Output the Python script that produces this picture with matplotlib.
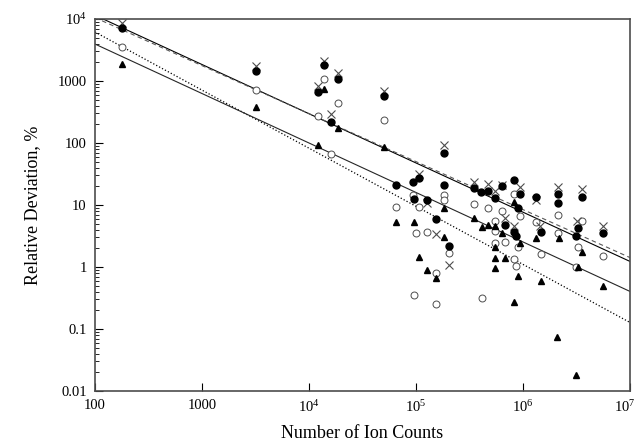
import matplotlib.pyplot as plt
import matplotlib.transforms as mtransforms
import numpy as np

plt.rcParams['font.family'] = ['Liberation Serif', 'DejaVu Serif']
plt.rcParams['mathtext.fontset'] = 'custom'
plt.rcParams['mathtext.rm'] = 'Liberation Serif'

# filled circles
n_fc = [179, 3200, 12100, 13800, 16100, 18700, 50200,
        183000, 65000, 93700, 107000, 95700, 127000, 183000, 154000, 203000,
        348000, 405000, 471000, 636000, 824000, 938000, 547000, 898000,
        679000, 824000, 861000,
        1.32e6, 2.12e6, 2.12e6, 3.56e6, 1.47e6, 3.27e6, 3.13e6, 5.59e6]
d_fc = [7160, 1445, 662, 1810, 217, 1074, 570,
        68.4, 20.8, 23.3, 27.0, 12.4, 11.9, 20.8, 5.88, 2.15,
        18.6, 16.0, 16.6, 20.0, 25.1, 14.9, 12.8, 8.85,
        4.70, 3.62, 3.12,
        13.3, 14.9, 10.6, 13.3, 3.62, 4.21, 3.12, 3.49]

# crosses
n_x = [179, 3200, 12100, 13800, 16100, 18700, 50200,
       183000, 107000, 127000, 154000, 203000,
       348000, 471000, 636000, 938000, 547000, 679000, 824000,
       1.32e6, 2.12e6, 3.56e6, 1.44e6, 3.20e6, 5.59e6]
d_x = [8620, 1740, 828, 2090, 292, 1340, 687,
       92, 31.3, 10.6, 3.36, 1.06,
       23.3, 21.6, 20.8, 19.3, 16.6, 6.10, 4.53,
       11.9, 19.3, 17.9, 4.53, 5.46, 4.53]

# open circles
n_oc = [179, 3200, 12100, 13800, 16100, 18700, 50200,
        65000, 93700, 107000, 183000, 183000, 100000, 127000, 203000,
        154000, 95700, 154000, 414000,
        348000, 471000, 636000, 824000, 938000, 547000, 547000, 679000,
        547000, 898000, 824000, 861000,
        1.32e6, 2.12e6, 2.12e6, 1.47e6, 3.56e6, 3.27e6, 3.13e6, 5.59e6]
d_oc = [3530, 713, 271, 1074, 65.9, 440, 233,
        9.18, 14.4, 9.18, 14.4, 11.9, 3.49, 3.62, 1.66,
        0.79, 0.348, 0.249, 0.311,
        10.3, 8.85, 7.91, 14.9, 6.57, 5.46, 3.76, 2.50,
        2.41, 2.08, 1.33, 1.02,
        5.26, 6.82, 3.49, 1.60, 5.46, 2.08, 0.986, 1.48]

# triangles
n_tr = [179, 3200, 12100, 13800, 18700, 50200,
        65000, 95700, 183000, 183000, 107000, 127000, 154000,
        348000, 414000, 471000, 547000, 824000, 636000, 938000, 547000,
        547000, 679000, 547000, 898000, 824000,
        1.32e6, 2.17e6, 1.47e6, 3.56e6, 3.27e6, 5.59e6, 2.08e6, 3.13e6]
d_tr = [1870, 379, 92, 740, 173, 85.5,
        5.26, 5.26, 8.85, 3.01, 1.43, 0.88, 0.655,
        6.10, 4.37, 4.70, 4.53, 11.1, 3.49, 2.41, 2.08,
        1.38, 1.38, 0.95, 0.705, 0.268,
        2.90, 2.90, 0.585, 1.72, 0.986, 0.486, 0.073, 0.0184]

# power-law fits, log10(d) = a + b*log10(n)
fit_fc = (5.648, -0.794)
fit_x = (5.570, -0.774)
fit_oc = (5.664, -0.937)
fit_tr = (5.192, -0.798)

fig = plt.figure(figsize=(6.39, 4.42), dpi=100)
ax = fig.add_axes([0.1487, 0.1154, 0.8372, 0.8416])

nn = np.logspace(2, 7, 200)
ax.plot(nn, 10**(fit_fc[0] + fit_fc[1]*np.log10(nn)), '-', color='k', lw=0.8)
ax.plot(nn, 10**(fit_x[0] + fit_x[1]*np.log10(nn)), '--', color='0.35', lw=0.8,
        dashes=(4, 3))
ax.plot(nn, 10**(fit_oc[0] + fit_oc[1]*np.log10(nn)), ':', color='k', lw=0.9)
ax.plot(nn, 10**(fit_tr[0] + fit_tr[1]*np.log10(nn)), '-', color='0.15', lw=0.8)

ax.plot(n_oc, d_oc, 'o', ms=5, mfc='white', mec='0.3', mew=0.7, ls='none')
ax.plot(n_x, d_x, 'x', ms=6, color='0.3', mew=0.8, ls='none')
ax.plot(n_fc, d_fc, 'o', ms=5, color='k', ls='none')
ax.plot(n_tr, d_tr, '^', ms=5, color='k', ls='none')

ax.set_xscale('log')
ax.set_yscale('log')
ax.set_xlim(100, 1e7)
ax.set_ylim(0.01, 1e4)

xt = [1e2, 1e3, 1e4, 1e5, 1e6, 1e7]
xl = ['100', '1000', r'$\mathregular{10^4}$', r'$\mathregular{10^5}$',
      r'$\mathregular{10^6}$', r'$\mathregular{10^7}$']
yt = [0.01, 0.1, 1, 10, 100, 1000, 1e4]
yl = ['0.01', '0.1', '1', '10', '100', '1000', r'$\mathregular{10^4}$']
ax.set_xticks(xt)
ax.set_xticklabels(xl, fontsize=10.5)
ax.set_yticks(yt)
ax.set_yticklabels(yl, fontsize=10.5)
ax.xaxis.set_minor_locator(plt.NullLocator())
ax.tick_params(which='both', direction='in', top=False, right=False)
ax.tick_params(which='major', length=6, width=0.8, pad=6)
ax.tick_params(which='minor', length=3, width=0.6)

# pull the last x label in a bit so it stays inside the figure
lab = ax.get_xticklabels()[-1]
lab.set_transform(lab.get_transform() +
                  mtransforms.ScaledTranslation(-4/72, 0, fig.dpi_scale_trans))

for s in ax.spines.values():
    s.set_linewidth(1.2)
    s.set_color('0.3')

ax.set_xlabel('Number of Ion Counts', fontsize=13, labelpad=7)
ax.set_ylabel('Relative Deviation, %', fontsize=13, labelpad=12)

fig.savefig('out.png', dpi=100)
